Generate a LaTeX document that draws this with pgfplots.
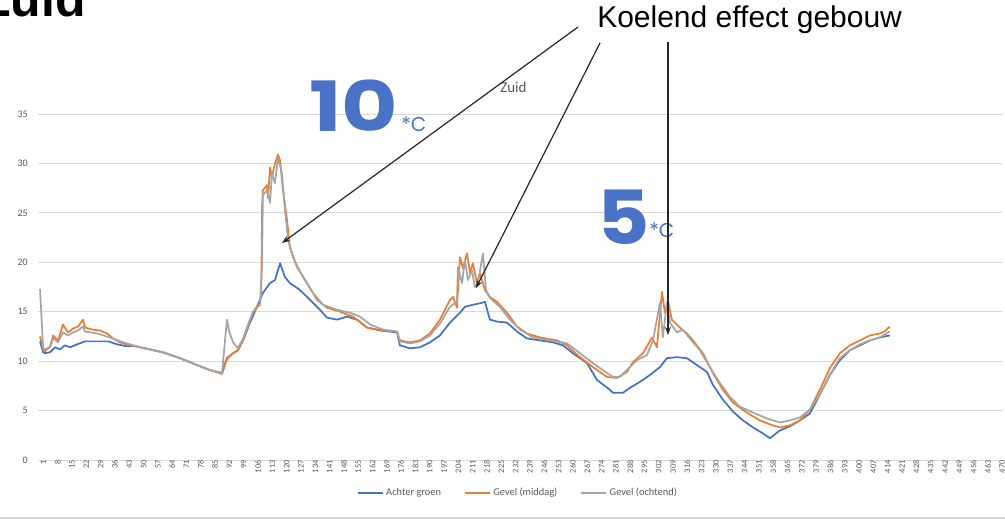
\documentclass[border=0pt]{standalone}
\usepackage{pgfplots}
\pgfplotsset{compat=1.18}
\usetikzlibrary{arrows.meta}
\usepackage{fontspec}
\setmainfont{Carlito}
\newfontfamily\helv{Liberation Sans}
\newfontfamily\pop{Poppins}
\definecolor{cblue}{HTML}{4472C4}
\definecolor{corange}{HTML}{ED7D31}
\definecolor{cgray}{HTML}{A5A5A5}
\definecolor{ctext}{HTML}{595959}
\definecolor{cgrid}{HTML}{D9D9D9}
\definecolor{ann}{HTML}{4A72C6}
\begin{document}
\begin{tikzpicture}[x=0.75pt,y=0.75pt]
\useasboundingbox (0,0) rectangle (1005,521);
\clip (0,0) rectangle (1005,521);
\fill[white] (0,0) rectangle (1005,521);
\draw[cgrid, line width=1pt] (0,3) -- (1005,3);
\begin{axis}[at={(28.5pt,45.75pt)}, anchor=south west, scale only axis,
  width=723pt, height=259.5pt,
  xmin=0, xmax=471.5, ymin=0, ymax=35,
  axis line style={draw=none},
  ytick={0,5,...,35}, xtick={1,8,...,470},
  ymajorgrids, major grid style={cgrid, line width=0.6pt},
  tick style={draw=none},
  /pgf/number format/assume math mode=true,
  yticklabel style={font=\fontsize{7.5}{8}\selectfont, text=ctext, inner sep=0pt, xshift=-7.5pt},
  xticklabel style={font=\fontsize{6.3}{7}\selectfont, text=ctext, rotate=90, anchor=east, inner sep=0pt, yshift=-2.5pt},
  legend columns=3,
  legend style={at={(0.498,-0.095)}, anchor=center, draw=none, fill=none,
    font=\fontsize{7.8}{9}\selectfont, text=ctext,
    /tikz/every even column/.append style={column sep=15pt}},
  legend image code/.code={\draw[#1, line width=1.5pt] (0pt,0pt) -- (18.75pt,0pt);},
  every axis plot/.append style={line width=1.3pt, mark=none, line join=round},
]
\addplot[cblue] coordinates {
(1,12.0)(2.5,10.9)(3.4,10.8)(5.9,10.9)(8.3,11.4)(10.8,11.2)(13.2,11.6)(15.7,11.4)(19.1,11.7)(23,12.0)(28.9,12.0)(34.3,12.0)(38.7,11.7)(43.5,11.5)(48.4,11.5)(50,11.4)(61,10.9)(69.5,10.3)(77.8,9.6)(84,9.1)(90,8.8)(92.4,10.3)(95.4,10.8)(97.8,11.1)(100.3,12.1)(103.7,13.9)(107.1,15.5)(110,16.9)(113.5,17.9)(115.9,18.2)(118.4,19.9)(120.8,18.5)(123.2,17.9)(128.1,17.2)(133,16.2)(137.9,15.2)(141.3,14.4)(146.2,14.2)(151.1,14.5)(156,14.2)(160.9,13.4)(167.3,13.1)(175.6,12.9)(177,11.6)(181.9,11.3)(186.8,11.4)(191.7,11.9)(196.6,12.6)(201.5,13.9)(206.4,14.9)(208.8,15.5)(212.7,15.7)(217.1,15.9)(218.6,16.0)(221,14.2)(224.5,14.0)(229.4,13.9)(234.3,13.0)(239.1,12.3)(245.5,12.1)(251.9,11.9)(256.7,11.6)(261.6,10.8)(268.5,9.8)(273.4,8.1)(279.7,7.1)(281.2,6.8)(286.1,6.8)(289.5,7.3)(294.4,7.9)(299.3,8.6)(304.2,9.4)(307.6,10.3)(312.5,10.4)(317.4,10.3)(322.3,9.6)(327.2,8.9)(330.1,7.6)(335,6.1)(339.9,4.9)(344.8,4.0)(349.7,3.3)(354.5,2.7)(358,2.2)(362.9,3.0)(367.7,3.4)(372.6,4.0)(377.5,4.7)(382.4,6.6)(387.3,8.6)(392.2,10.1)(397.1,11.1)(402,11.6)(406.9,12.1)(411.8,12.4)(416.6,12.6)
};
\addlegendentry{Achter groen}
\addplot[corange] coordinates {
(1,12.5)(2.5,11.3)(3.4,11.0)(5.9,11.5)(7.4,12.6)(9.8,12.1)(12.2,13.7)(14.7,12.9)(17.1,13.3)(19.6,13.5)(22,14.2)(23,13.4)(26.4,13.2)(30.3,13.1)(33.8,12.8)(36.7,12.3)(40.1,11.9)(45,11.6)(50,11.4)(61,10.9)(69.5,10.3)(77.8,9.6)(84,9.1)(90,8.7)(92.4,10.2)(95.4,10.8)(97.8,11.1)(100.3,12.1)(103.7,14.2)(105.2,15.0)(108.6,15.9)(109.2,16.9)(109.6,25.6)(110,27.3)(112,27.8)(112.5,26.5)(113.5,29.6)(114.4,28.6)(115.9,30.0)(117.4,30.9)(118.4,30.3)(119.8,27.3)(121.8,24.3)(123.2,21.5)(126.7,19.5)(131.6,17.9)(136.5,16.2)(141.3,15.4)(147.7,15.0)(154.1,14.5)(160.9,13.4)(168.7,13.1)(175.6,13.0)(177,12.1)(181.9,11.9)(186.8,12.1)(191.7,12.8)(196.6,14.2)(201.5,16.2)(203,16.5)(204.9,15.4)(206.4,20.5)(207.8,19.4)(209.8,20.9)(211.3,18.9)(212.7,19.9)(214.7,17.9)(216.2,18.9)(218.6,17.2)(221,16.5)(224.5,16.0)(229.4,14.9)(234.3,13.5)(239.1,12.8)(245.5,12.4)(253.8,12.1)(258.7,11.6)(265.1,10.4)(271.4,9.4)(278.3,8.4)(283.2,8.3)(288,8.9)(291,9.9)(295.9,10.8)(300.3,12.4)(302.7,11.4)(305.2,17.0)(306.6,14.9)(308.1,16.2)(310,14.2)(312.5,13.7)(314.9,13.2)(317.4,12.8)(320.3,12.1)(325.2,10.8)(330.1,8.8)(335,7.1)(339.9,5.8)(346.7,4.8)(353.1,4.0)(359.4,3.5)(362.9,3.3)(367.7,3.5)(372.6,4.0)(377.5,5.1)(382.4,7.1)(387.3,9.3)(392.2,10.8)(397.1,11.6)(402,12.1)(406.9,12.6)(411.8,12.8)(414,13.0)(416.6,13.5)
};
\addlegendentry{Gevel (middag)}
\addplot[cgray] coordinates {
(1,17.3)(2.5,11.3)(3.4,11.2)(5.9,11.4)(7.4,12.3)(9.8,11.9)(12.2,12.9)(14.7,12.6)(17.1,12.9)(19.6,13.1)(22,13.5)(23,13.0)(28.9,12.8)(35.2,12.4)(41.6,11.9)(48.4,11.5)(50,11.4)(61,10.9)(69.5,10.3)(77.8,9.6)(84,9.1)(90,8.8)(91,11.0)(92.4,14.2)(93.5,13.0)(95.4,11.9)(97.8,11.3)(100.3,12.3)(103.7,14.2)(105.2,15.0)(108.6,15.7)(109.6,20.0)(110,26.8)(112,27.3)(113.5,26.0)(114.4,29.0)(115.9,28.0)(117.4,30.6)(119.3,29.0)(120.8,25.3)(122.3,22.3)(124.7,20.5)(129.6,18.5)(134.5,16.9)(139.4,15.7)(146.2,15.2)(152.6,14.9)(157.5,14.5)(162.4,13.7)(168.7,13.2)(175.6,13.0)(177,12.0)(181.9,11.8)(186.8,12.0)(191.7,12.6)(196.6,13.8)(201.5,15.5)(204.9,16.0)(205.4,19.5)(207.4,17.9)(208.8,20.2)(210.3,18.2)(212.2,19.2)(213.7,17.5)(215.2,17.9)(217.6,20.9)(219.1,17.2)(221,16.4)(225.9,15.5)(230.8,14.2)(235.7,13.2)(242.1,12.4)(250.4,12.1)(258.7,11.8)(265.1,10.8)(271.4,9.8)(278.3,8.8)(281.2,8.4)(284.6,8.4)(288,9.1)(292.9,10.1)(297.8,10.6)(300.8,12.1)(304.2,15.9)(305.6,12.4)(307.6,15.9)(309.1,13.9)(312.5,12.9)(315.4,13.2)(318.8,12.3)(323.7,11.1)(328.6,9.4)(333.5,7.8)(338.4,6.4)(343.3,5.4)(349.7,4.8)(356.5,4.2)(362.9,3.8)(367.7,4.0)(372.6,4.3)(377.5,5.1)(382.4,6.6)(387.3,8.6)(392.2,10.3)(397.1,11.1)(402,11.7)(406.9,12.1)(411.8,12.4)(416.6,13.0)
};
\addlegendentry{Gevel (ochtend)}
\end{axis}
\node[anchor=base west, inner sep=0pt, text=ctext, font=\fontsize{11.25}{13}\selectfont] at (500,428) {Zuid};
\node[anchor=base east, inner sep=0pt, font=\helv\bfseries\fontsize{37.5}{40}\selectfont] at (86,504) {Zuid};
\node[anchor=base west, inner sep=0pt, font=\helv\fontsize{22.5}{26}\selectfont] at (597,493) {Koelend effect gebouw};
\node[anchor=base west, inner sep=0pt, text=ann, xscale=1.25, font=\pop\bfseries\fontsize{52}{56}\selectfont] at (309,389) {10};
\node[anchor=base west, inner sep=0pt, text=ann, font=\pop\fontsize{15}{16}\selectfont] at (401,389) {*C};
\node[anchor=base west, inner sep=0pt, text=ann, xscale=1.08, font=\pop\bfseries\fontsize{56}{60}\selectfont] at (597,276) {5};
\node[anchor=base west, inner sep=0pt, text=ann, font=\pop\fontsize{15}{16}\selectfont] at (649,283) {*C};
\draw[line width=0.9pt, black!85, -{Stealth[length=6pt,width=4.5pt]}] (578,494) -- (282,278);
\draw[line width=0.9pt, black!85, -{Stealth[length=6pt,width=4.5pt]}] (600,478) -- (476,233);
\draw[line width=0.9pt, black!85, -{Stealth[length=6pt,width=4.5pt]}] (668,479) -- (668,186);
\end{tikzpicture}
\end{document}
